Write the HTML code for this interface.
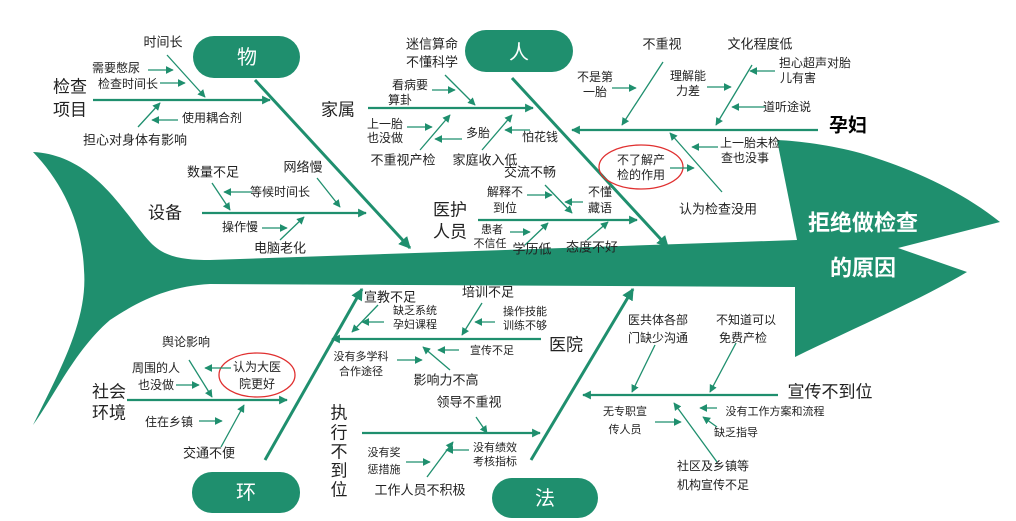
<!DOCTYPE html>
<html><head><meta charset="utf-8"><style>
html,body{margin:0;padding:0;background:#fff;}
svg{display:block;}
text{font-family:"Liberation Sans","Noto Sans CJK SC",sans-serif;fill:#222;text-anchor:middle;dominant-baseline:central;}
.s{font-size:12px}.xs{font-size:11px}.m{font-size:13px}.l{font-size:17px}
.w{fill:#fff}
line{stroke:#1f8f6e;stroke-width:1.3;marker-end:url(#a)}
.b{stroke-width:3;marker-end:url(#A)}
.h{stroke-width:2.2;marker-end:url(#A)}
</style></head><body>
<svg width="1016" height="521" viewBox="0 0 1016 521" xmlns="http://www.w3.org/2000/svg">
<defs>
<marker id="a" viewBox="0 0 10 10" refX="9" refY="5" markerWidth="6" markerHeight="6" orient="auto"><path d="M0,0 L10,5 L0,10 z" fill="#1f8f6e"/></marker>
<marker id="A" viewBox="0 0 10 10" refX="9" refY="5" markerWidth="4" markerHeight="4" orient="auto"><path d="M0,0 L10,5 L0,10 z" fill="#1f8f6e"/></marker>
</defs>
<path fill="#1f8f6e" d="M33,152 C95,155 125,215 150,242 C165,258 185,260 210,260 L797,240 L777,140 C800,141 830,145 860,153 C910,168 960,190 1000,222 L898,248 L967,272 C920,300 850,330 795,357 L795,287 L210,284 C170,286 140,300 110,320 C75,350 55,395 33,425 C60,370 88,320 84,270 C82,220 60,180 33,152 Z"/>
<text class="w" x="863" y="223" style="font-size:22px;font-weight:bold">拒绝做检查</text>
<text class="w" x="863" y="268" style="font-size:22px;font-weight:bold">的原因</text>
<rect x="193" y="36" width="107" height="42" rx="21" fill="#1f8f6e"/><text class="w" x="247" y="58" style="font-size:20px">物</text>
<rect x="465" y="30" width="108" height="42" rx="21" fill="#1f8f6e"/><text class="w" x="519" y="53" style="font-size:20px">人</text>
<rect x="192" y="472" width="108" height="41" rx="20" fill="#1f8f6e"/><text class="w" x="246" y="493" style="font-size:20px">环</text>
<rect x="492" y="478" width="106" height="40" rx="20" fill="#1f8f6e"/><text class="w" x="545" y="499" style="font-size:20px">法</text>
<!-- main bones -->
<line class="b" x1="255" y1="80" x2="410" y2="248"/>
<line class="b" x1="512" y1="78" x2="668" y2="247"/>
<line class="b" x1="265" y1="460" x2="362" y2="289"/>
<line class="b" x1="531" y1="460" x2="633" y2="289"/>
<!-- 物 -->
<text class="m" x="163" y="42">时间长</text>
<text class="s" x="116" y="68">需要憋尿</text><line x1="148" y1="70" x2="173" y2="70"/>
<text class="s" x="128" y="84">检查时间长</text><line x1="160" y1="83" x2="185" y2="83"/>
<text class="l" x="70" y="87">检查</text><text class="l" x="70" y="110">项目</text>
<line class="h" x1="93" y1="100" x2="270" y2="100"/>
<line x1="167" y1="55" x2="205" y2="97"/>
<text class="s" x="212" y="118">使用耦合剂</text><line x1="178" y1="120" x2="152" y2="120"/>
<text class="m" x="135" y="140">担心对身体有影响</text><line x1="138" y1="127" x2="160" y2="103"/>
<text class="m" x="213" y="172">数量不足</text><line x1="212" y1="183" x2="230" y2="210"/>
<text class="m" x="303" y="167">网络慢</text><line x1="317" y1="178" x2="340" y2="207"/>
<text class="s" x="280" y="192">等候时间长</text><line x1="252" y1="192" x2="224" y2="192"/>
<text class="l" x="165" y="213">设备</text>
<line class="h" x1="202" y1="213" x2="366" y2="213"/>
<text class="s" x="240" y="227">操作慢</text><line x1="262" y1="228" x2="287" y2="228"/>
<text class="m" x="280" y="248">电脑老化</text><line x1="280" y1="240" x2="304" y2="217"/>
<!-- 家属 -->
<text class="m" x="432" y="44">迷信算命</text><text class="m" x="432" y="62">不懂科学</text>
<line x1="445" y1="75" x2="475" y2="105"/>
<text class="s" x="410" y="85">看病要</text><text class="s" x="400" y="100">算卦</text><line x1="432" y1="90" x2="455" y2="90"/>
<text class="l" x="338" y="110">家属</text>
<line class="h" x1="368" y1="108" x2="533" y2="108"/>
<text class="s" x="385" y="124">上一胎</text><text class="s" x="385" y="138">也没做</text><line x1="407" y1="127" x2="432" y2="127"/>
<line x1="420" y1="150" x2="450" y2="115"/>
<text class="s" x="478" y="133">多胎</text><line x1="462" y1="139" x2="435" y2="139"/>
<text class="m" x="403" y="160">不重视产检</text>
<text class="m" x="485" y="160">家庭收入低</text>
<line x1="482" y1="150" x2="512" y2="115"/>
<text class="s" x="540" y="137">怕花钱</text><line x1="530" y1="130" x2="505" y2="130"/>
<!-- 医护人员 -->
<text class="m" x="530" y="172">交流不畅</text>
<text class="s" x="505" y="192">解释不</text><text class="s" x="505" y="208">到位</text><line x1="527" y1="195" x2="552" y2="195"/>
<line x1="545" y1="185" x2="572" y2="213"/>
<text class="s" x="600" y="192">不懂</text><text class="s" x="600" y="208">藏语</text><line x1="583" y1="202" x2="565" y2="202"/>
<text class="l" x="450" y="210">医护</text><text class="l" x="450" y="232">人员</text>
<line class="h" x1="478" y1="220" x2="637" y2="220"/>
<text class="xs" x="492" y="230">患者</text><text class="xs" x="490" y="244">不信任</text><line x1="510" y1="232" x2="530" y2="232"/>
<line x1="525" y1="245" x2="548" y2="223"/>
<text class="m" x="532" y="249">学历低</text>
<text class="m" x="592" y="247">态度不好</text>
<line x1="587" y1="240" x2="608" y2="222"/>
<!-- 孕妇 -->
<text class="m" x="662" y="44">不重视</text><text class="m" x="760" y="44">文化程度低</text>
<text class="s" x="595" y="77">不是第</text><text class="s" x="595" y="92">一胎</text><line x1="612" y1="88" x2="636" y2="88"/>
<line x1="663" y1="62" x2="622" y2="125"/>
<text class="s" x="688" y="76">理解能</text><text class="s" x="688" y="91">力差</text><line x1="707" y1="87" x2="731" y2="87"/>
<line x1="752" y1="65" x2="716" y2="125"/>
<text class="s" x="815" y="63">担心超声对胎</text><text class="s" x="798" y="78">儿有害</text><line x1="775" y1="71" x2="750" y2="71"/>
<text class="s" x="787" y="107">道听途说</text><line x1="765" y1="107" x2="732" y2="107"/>
<text x="848" y="126" style="font-size:19px;font-weight:bold;fill:#000">孕妇</text>
<line class="h" x1="818" y1="130" x2="572" y2="130"/>
<text class="s" x="750" y="143">上一胎未检</text><text class="s" x="745" y="158">查也没事</text><line x1="718" y1="147" x2="692" y2="147"/>
<line x1="722" y1="192" x2="670" y2="133"/>
<ellipse cx="641" cy="167" rx="42" ry="22" fill="none" stroke="#e03030" stroke-width="1.3"/>
<text class="s" x="641" y="160">不了解产</text><text class="s" x="641" y="175">检的作用</text>
<line x1="670" y1="168" x2="694" y2="168"/>
<text class="m" x="718" y="209">认为检查没用</text>
<!-- 医院 -->
<text class="m" x="390" y="297">宣教不足</text>
<text class="xs" x="415" y="311">缺乏系统</text><text class="xs" x="415" y="325">孕妇课程</text><line x1="384" y1="322" x2="362" y2="322"/>
<line x1="378" y1="305" x2="352" y2="332"/>
<text class="m" x="488" y="292">培训不足</text>
<text class="xs" x="525" y="312">操作技能</text><text class="xs" x="525" y="326">训练不够</text><line x1="495" y1="322" x2="475" y2="322"/>
<line x1="482" y1="303" x2="462" y2="335"/>
<text class="l" x="566" y="345">医院</text>
<line class="h" x1="541" y1="339" x2="332" y2="339"/>
<text class="xs" x="492" y="351">宣传不足</text><line x1="459" y1="350" x2="438" y2="350"/>
<text class="xs" x="361" y="357">没有多学科</text><text class="xs" x="361" y="372">合作途径</text><line x1="397" y1="360" x2="422" y2="360"/>
<line x1="450" y1="370" x2="423" y2="347"/>
<text class="m" x="446" y="380">影响力不高</text>
<!-- 社会环境 -->
<text class="s" x="186" y="342">舆论影响</text>
<line x1="189" y1="360" x2="212" y2="397"/>
<text class="s" x="156" y="368">周围的人</text><text class="s" x="156" y="385">也没做</text><line x1="176" y1="385" x2="199" y2="385"/>
<ellipse cx="257" cy="375" rx="38" ry="22" fill="none" stroke="#e03030" stroke-width="1.3"/>
<text class="s" x="257" y="367">认为大医</text><text class="s" x="257" y="384">院更好</text>
<line x1="231" y1="368" x2="205" y2="368"/>
<text class="l" x="109" y="392">社会</text><text class="l" x="109" y="413">环境</text>
<line class="h" x1="127" y1="400" x2="287" y2="400"/>
<text class="s" x="169" y="422">住在乡镇</text><line x1="199" y1="421" x2="222" y2="421"/>
<line x1="221" y1="447" x2="244" y2="405"/>
<text class="m" x="209" y="453">交通不便</text>
<!-- 执行不到位 -->
<text class="l" x="339" y="413">执</text><text class="l" x="339" y="433">行</text><text class="l" x="339" y="452">不</text><text class="l" x="339" y="471">到</text><text class="l" x="339" y="490">位</text>
<text class="m" x="469" y="402">领导不重视</text>
<line x1="476" y1="417" x2="487" y2="433"/>
<line class="h" x1="362" y1="433" x2="540" y2="433"/>
<text class="xs" x="495" y="448">没有绩效</text><text class="xs" x="495" y="462">考核指标</text><line x1="469" y1="450" x2="446" y2="450"/>
<line x1="427" y1="477" x2="453" y2="442"/>
<text class="xs" x="384" y="453">没有奖</text><text class="xs" x="384" y="470">惩措施</text><line x1="406" y1="462" x2="430" y2="462"/>
<text class="m" x="420" y="490">工作人员不积极</text>
<!-- 宣传不到位 -->
<text class="s" x="658" y="320">医共体各部</text><text class="s" x="658" y="338">门缺少沟通</text>
<line x1="655" y1="345" x2="632" y2="392"/>
<text class="s" x="746" y="320">不知道可以</text><text class="s" x="743" y="338">免费产检</text>
<line x1="736" y1="343" x2="710" y2="392"/>
<text class="l" x="830" y="392">宣传不到位</text>
<line class="h" x1="778" y1="395" x2="583" y2="395"/>
<text class="xs" x="625" y="412">无专职宣</text><text class="xs" x="625" y="430">传人员</text><line x1="655" y1="422" x2="681" y2="422"/>
<line x1="717" y1="462" x2="674" y2="403"/>
<text class="xs" x="775" y="412">没有工作方案和流程</text><line x1="717" y1="408" x2="700" y2="408"/>
<text class="xs" x="736" y="433">缺乏指导</text><line x1="717" y1="427" x2="703" y2="417"/>
<text class="s" x="713" y="466">社区及乡镇等</text><text class="s" x="713" y="485">机构宣传不足</text>
</svg>
</body></html>
